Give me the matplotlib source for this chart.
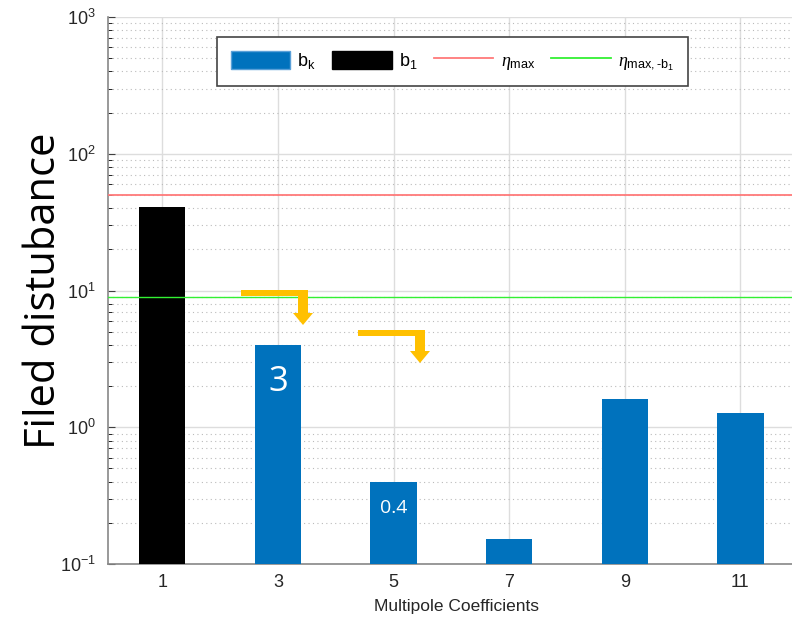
import numpy as np
import matplotlib
matplotlib.use("Agg")
import matplotlib.pyplot as plt
import matplotlib.transforms as mtrans
from matplotlib.patches import Patch, Polygon
from matplotlib.lines import Line2D

# data
order = [1, 3, 5, 7, 9, 11]
values = [41.0, 4.0, 0.4, 0.152, 1.62, 1.27]
eta_max = 50.0
eta_max_b1 = 9.0
notes = {3: "3", 5: "0.4"}

blue = "#0072BD"
gold = "#FFC000"
W, H = 792, 630

plt.rcParams['font.family'] = ['Liberation Sans', 'DejaVu Sans']
plt.rcParams['mathtext.fontset'] = 'custom'
plt.rcParams['mathtext.rm'] = 'Liberation Sans'
plt.rcParams['mathtext.it'] = 'Liberation Serif:italic'
plt.rcParams['xtick.direction'] = 'in'
plt.rcParams['ytick.direction'] = 'in'

fig = plt.figure(figsize=(W/100, H/100), dpi=100)
ax = fig.add_axes([108/W, 66/H, 696/W, 547/H])

colors = ["black" if n == 1 else blue for n in order]
ax.bar(order, values, width=0.8, color=colors, zorder=3)
ax.axhline(eta_max, color="#ff7a7a", lw=1.3, zorder=4)
ax.axhline(eta_max_b1, color="#33f033", lw=1.0, zorder=4)

ax.set_yscale("log")
ax.set_ylim(0.1, 1000)
ax.set_xlim(0.06, 12.1)
ax.set_xticks(order)
ax.tick_params(axis="both", colors="#404040", labelcolor="#262626", labelsize=13)
ax.tick_params(axis="x", pad=7, length=0)
ax.tick_params(axis="y", which="major", length=5, pad=9)
ax.tick_params(axis="y", which="minor", length=3)

ax.grid(True, which="major", color="#dddddd", lw=1.0, zorder=0)
ax.grid(True, which="minor", axis="y", color="#bbbbbb", ls=(0, (1, 3)), lw=0.8, zorder=0)
ax.spines["top"].set_visible(False)
ax.spines["right"].set_visible(False)
for s in ["left", "bottom"]:
    ax.spines[s].set_color("#888888")
    ax.spines[s].set_linewidth(1.2)

ax.set_xlabel("Multipole Coefficients", fontsize=12.5, color="#262626", labelpad=6)
ax.set_ylabel("Filed distubance", fontsize=30, family=["Open Sans", "DejaVu Sans"], labelpad=-4)

# white labels inside bars
ax.text(3, 2.15, notes[3], color="white", fontsize=25, ha="center", va="center",
        family=["Open Sans", "DejaVu Sans"], zorder=5)
ax.text(5, 0.255, notes[5], color="white", fontsize=14, ha="center", va="center",
        family=["Open Sans", "DejaVu Sans"], zorder=5)

# bent arrows, shape given in pixels from top-left
px = mtrans.Affine2D().scale(1/W, -1/H).translate(0, 1) + fig.transFigure

def bent_arrow(x0, x1, y0, tip):
    pts = [(x0, y0), (x1, y0), (x1, tip - 12), (x1 + 5, tip - 12), (x1 - 5, tip),
           (x1 - 15, tip - 12), (x1 - 10, tip - 12), (x1 - 10, y0 + 6), (x0, y0 + 6)]
    fig.patches.append(Polygon(pts, closed=True, facecolor=gold, edgecolor="none",
                               transform=px, zorder=6))

bent_arrow(241, 308, 290, 325)
bent_arrow(358, 425, 330, 363)

handles = [Patch(facecolor=blue, edgecolor="#5aa0d8"),
           Patch(facecolor="black", edgecolor="black"),
           Line2D([], [], color="#ff7a7a", lw=1.3),
           Line2D([], [], color="#33f033", lw=1.3)]
labels = [r"$\mathrm{b_k}$", r"$\mathrm{b_1}$", r"$\eta_{\mathrm{max}}$",
          r"$\eta_{\mathrm{max,\text{-}b_1}}$"]
leg = ax.legend(handles, labels, ncol=4, loc="upper left",
                bbox_to_anchor=(217/W, 1 - 37/H), bbox_transform=fig.transFigure,
                borderaxespad=0, fontsize=13, frameon=True, fancybox=False,
                edgecolor="#444444", framealpha=1, handlelength=3.3, handleheight=1.2,
                columnspacing=0.9, handletextpad=0.4, borderpad=0.75)
leg.get_frame().set_linewidth(1.2)

fig.savefig("out.png", dpi=100)
